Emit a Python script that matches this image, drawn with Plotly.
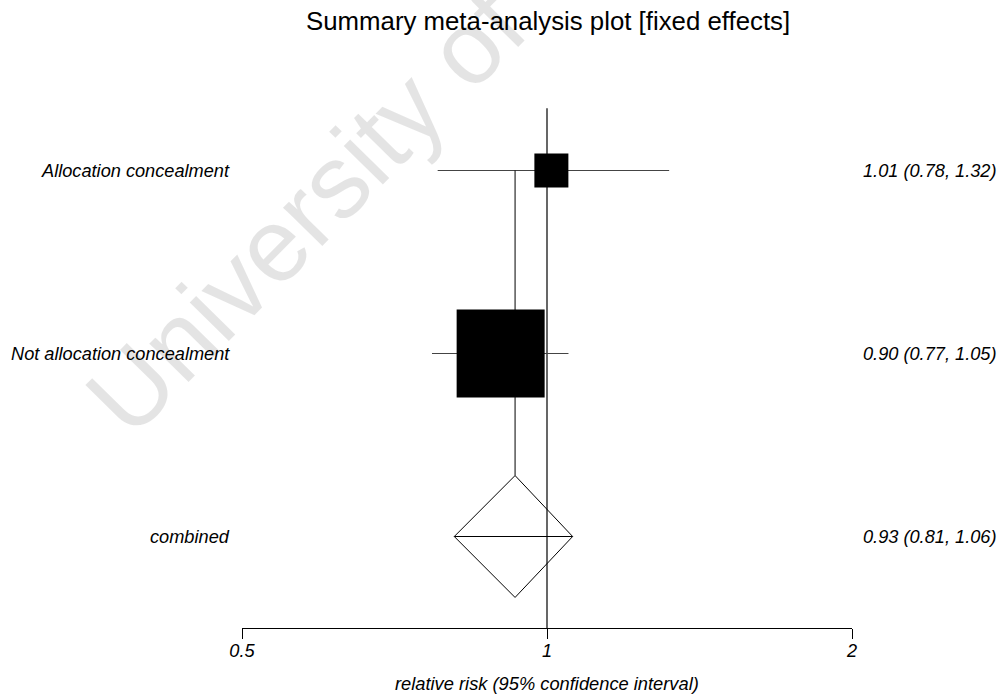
import math
import plotly.graph_objects as go

# ---- data ----
labels = ["Allocation concealment", "Not allocation concealment", "combined"]
estimates = [1.01, 0.90, 0.93]
lower = [0.78, 0.77, 0.81]
upper = [1.32, 1.05, 1.06]
row_pos = [3, 2, 1]
box_sizes = [34, 88]          # study-group weights shown as box size (px)
null_value = 1
tick_vals = [0.5, 1, 2]
tick_text = ["0.5", "1", "2"]
title_text = "Summary meta-analysis plot [fixed effects]"
xaxis_title = "relative risk (95% confidence interval)"
watermark = "University of Cape Town"

FONT = "Liberation Sans, Arial, sans-serif"
FS = 18.2
W, H = 1002, 694
ML, MR, MT, MB = 242, 150, 79, 66

fig = go.Figure()

# reference line at null value
fig.add_trace(go.Scatter(x=[null_value, null_value], y=[3.34, 0.5], mode="lines",
                         line=dict(color="black", width=1.2), hoverinfo="skip"))

# confidence intervals for subgroup rows
for i in range(2):
    fig.add_trace(go.Scatter(x=[lower[i], upper[i]], y=[row_pos[i], row_pos[i]], mode="lines",
                             line=dict(color="#444444", width=1), hoverinfo="skip"))

# vertical summary line from top row to diamond top
h = 0.333
fig.add_trace(go.Scatter(x=[estimates[2], estimates[2]], y=[row_pos[0], row_pos[2] + h], mode="lines",
                         line=dict(color="black", width=1), hoverinfo="skip"))

# boxes
fig.add_trace(go.Scatter(x=estimates[:2], y=row_pos[:2], mode="markers",
                         marker=dict(symbol="square", size=box_sizes, color="black", opacity=1,
                                     line=dict(width=0)), hoverinfo="skip"))

# diamond for combined
yc = row_pos[2]
fig.add_trace(go.Scatter(x=[lower[2], estimates[2], upper[2], estimates[2], lower[2]],
                         y=[yc, yc + h, yc, yc - h, yc], mode="lines",
                         line=dict(color="black", width=1), fill="none", hoverinfo="skip"))
fig.add_trace(go.Scatter(x=[lower[2], upper[2]], y=[yc, yc], mode="lines",
                         line=dict(color="black", width=1), hoverinfo="skip"))

def px_to_paper_x(px):
    return (px - ML) / (W - ML - MR)

def px_to_paper_y(py):
    return (H - MB - py) / (H - MT - MB)

annotations = []
# watermark (semi-transparent so the chart lines stay visible through it)
annotations.append(dict(text=watermark, xref="paper", yref="paper",
                        x=px_to_paper_x(497), y=px_to_paper_y(17),
                        xanchor="center", yanchor="middle", textangle=-45.5, showarrow=False,
                        font=dict(family=FONT, size=104, color="rgba(0,0,0,0.105)")))
# row labels and effect texts
for i in range(3):
    annotations.append(dict(text="<i>%s</i>" % labels[i], xref="paper", yref="y",
                            x=px_to_paper_x(232), y=row_pos[i], xanchor="right", yanchor="middle",
                            showarrow=False, font=dict(family=FONT, size=FS, color="black")))
    annotations.append(dict(text="<i>%.2f (%.2f, %.2f)</i>" % (estimates[i], lower[i], upper[i]),
                            xref="paper", yref="y",
                            x=px_to_paper_x(998.5), y=row_pos[i], xanchor="right", yanchor="middle",
                            showarrow=False, font=dict(family=FONT, size=FS, color="black")))
# title
annotations.append(dict(text=title_text, xref="paper", yref="paper",
                        x=px_to_paper_x(547.5), y=px_to_paper_y(21), xanchor="center", yanchor="middle",
                        showarrow=False, font=dict(family=FONT, size=25.8, color="black")))
# x axis title
annotations.append(dict(text="<i>%s</i>" % xaxis_title, xref="paper", yref="paper",
                        x=px_to_paper_x(547), y=px_to_paper_y(683), xanchor="center", yanchor="middle",
                        showarrow=False, font=dict(family=FONT, size=18.3, color="black")))

fig.update_layout(
    width=W, height=H,
    margin=dict(l=ML, r=MR, t=MT, b=MB, autoexpand=False),
    paper_bgcolor="white", plot_bgcolor="white",
    showlegend=False,
    annotations=annotations,
    xaxis=dict(type="log", range=[math.log10(0.5), math.log10(2)],
               showgrid=False, zeroline=False, showline=True, linecolor="black", linewidth=1,
               ticks="outside", ticklen=10, tickcolor="black", tickwidth=1,
               tickvals=tick_vals, ticktext=["<i>%s</i>" % t for t in tick_text],
               ticklabelstandoff=-4,
               tickfont=dict(family=FONT, size=FS, color="black")),
    yaxis=dict(range=[0.5, 3.5], visible=False, showgrid=False, zeroline=False),
)

fig.write_html("out.html")
